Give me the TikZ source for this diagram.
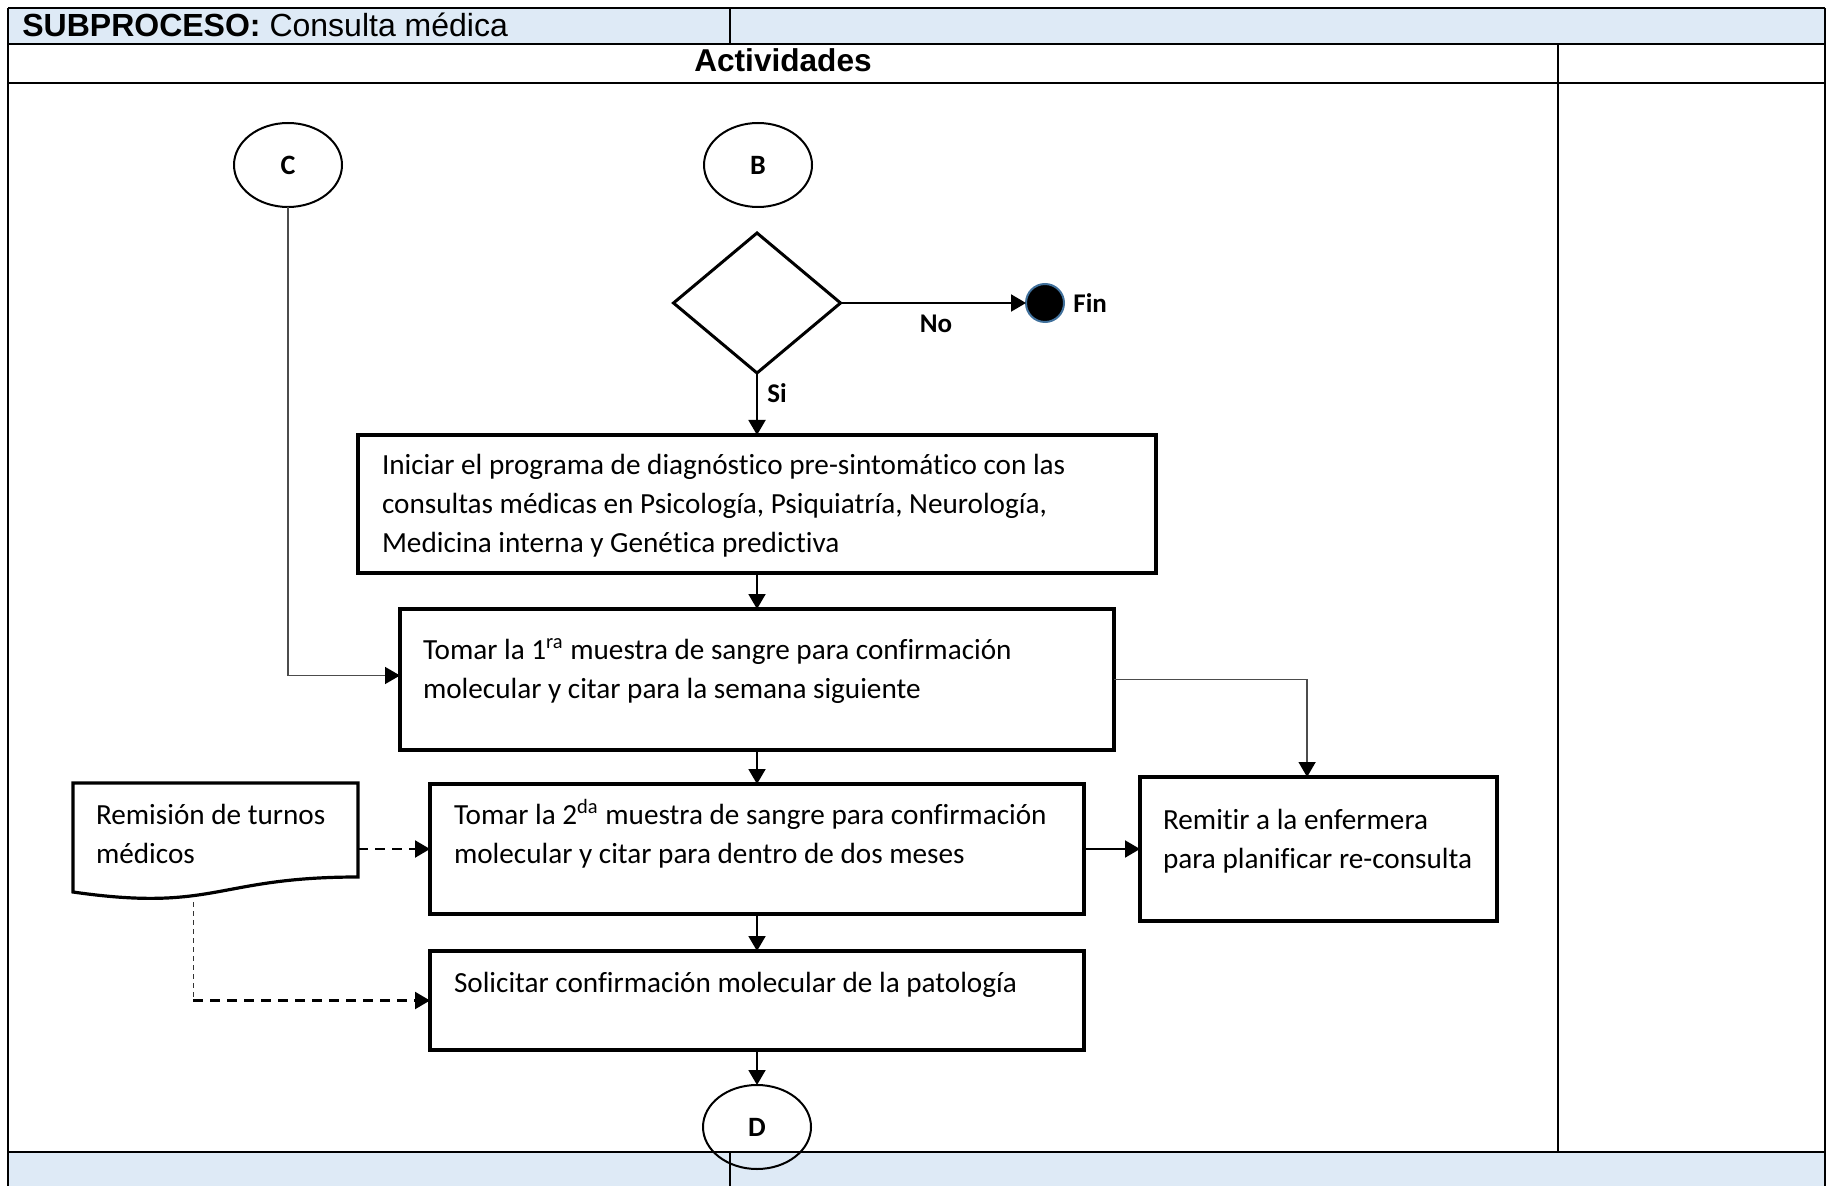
\documentclass[tikz,border=0pt]{standalone}
\usepackage{fontspec}
\setmainfont{Carlito}[Ligatures=NoCommon]
\newfontfamily\hdrfont{Liberation Sans}
\usetikzlibrary{shapes.geometric,arrows.meta,calc}
\definecolor{hdrblue}{HTML}{DEEAF6}
\definecolor{finblue}{HTML}{41719C}
\newcommand{\mylines}[1]{\begin{tabular}[t]{@{}l@{}}#1\end{tabular}}
\begin{document}
\begin{tikzpicture}[x=0.5pt,y=-0.5pt,
  box/.style={draw,line width=1.6pt,inner sep=0pt,outer sep=0pt},
  txt/.style={font=\fontsize{14.6}{19.5}\selectfont,inner sep=0pt,outer sep=0pt,anchor=base west},
  lbl/.style={font=\fontsize{13.5}{16}\selectfont\bfseries,inner sep=0pt},
  conn/.style={ellipse,draw,line width=1pt,minimum width=54pt,minimum height=42pt,inner sep=0pt,outer sep=0pt,font=\fontsize{14}{16}\selectfont\bfseries},
  tip/.style={-{Triangle[length=7.5pt,width=8.5pt,color=black]}},
  arr/.style={line width=1pt,tip},
  greyarr/.style={line width=0.75pt,draw=black!70,tip},
  dasharr/.style={line width=1.1pt,dash pattern=on 5pt off 3.5pt,tip},
  dashthin/.style={line width=0.5pt,draw=black!80,dash pattern=on 2.5pt off 2pt},
  tbl/.style={line width=1.1pt},
  tbldiv/.style={line width=0.8pt}
]
\useasboundingbox (0,0) rectangle (1834,1186);

% ---- table frame ----
\fill[hdrblue] (8,8) rectangle (1825,44);
\fill[hdrblue] (8,1152) rectangle (1825,1186);
\draw[tbl] (8,8) -- (1825,8);
\draw[tbl] (8,44) -- (1825,44);
\draw[tbl] (8,83) -- (1825,83);
\draw[tbl] (8,1152) -- (1825,1152);
\draw[tbl] (8,8) -- (8,1186);
\draw[tbl] (1825,8) -- (1825,1186);
\draw[tbldiv] (730,8) -- (730,44);
\draw[tbldiv] (1558,44) -- (1558,1152);
\draw[tbldiv] (730,1152) -- (730,1186);
\node[inner sep=0pt,anchor=base west,font=\hdrfont\fontsize{16}{18}\selectfont] (title) at (22,37) {\textbf{SUBPROCESO:} Consulta médica};
\node[inner sep=0pt,anchor=base,font=\hdrfont\fontsize{15.8}{18}\selectfont\bfseries] (act) at (783,72) {Actividades};

% ---- connectors / terminators ----
\node[conn] (cC) at (288,165) {C};
\node[conn] (cB) at (758,165) {B};
\node[conn] (cD) at (757,1127) {D};

\node[diamond,draw,line width=1.5pt,minimum width=83.5pt,minimum height=70pt,inner sep=0pt,outer sep=0pt] (dia) at (757,303) {};
\node[circle,fill=black,draw=finblue,line width=1pt,minimum size=19pt,inner sep=0pt,outer sep=0pt] (fin) at (1045,303) {};
\node[lbl,anchor=west] (finlbl) at (1073,303) {Fin};
\node[lbl] (nolbl) at (936,324) {No};
\node[lbl] (silbl) at (777,393) {Si};

% ---- process boxes ----
\node[box,minimum width=399pt,minimum height=69pt] (box1) at (757,504) {};
\node[box,minimum width=357pt,minimum height=70.5pt] (box2) at (757,679.5) {};
\node[box,minimum width=178.5pt,minimum height=72pt] (box3) at (1318.5,849) {};
\node[box,minimum width=327pt,minimum height=65pt] (box4) at (757,849) {};
\node[box,minimum width=327pt,minimum height=49.5pt] (box5) at (757,1000.5) {};
\node[inner sep=0pt,outer sep=0pt,minimum width=142.5pt,minimum height=47pt] (doc) at (215.5,830) {};
\draw[line width=1.6pt,line join=miter] (doc.south east) -- (doc.north east) -- (doc.north west) -- ($(doc.south west)+(0,15)$)
  .. controls ($(doc.south)+(0,35.5)$) and (doc.south) .. (doc.south east) -- cycle;

\node[txt] (t1) at (382,475) {\mylines{Iniciar el programa de diagnóstico pre-sintomático con las\\consultas médicas en Psicología, Psiquiatría, Neurología,\\Medicina interna y Genética predictiva}};
\node[txt] (t2) at (423,659) {\mylines{Tomar la 1\textsuperscript{ra} muestra de sangre para confirmación\\molecular y citar para la semana siguiente}};
\node[txt] (t3) at (1163,829) {\mylines{Remitir a la enfermera\\para planificar re-consulta}};
\node[txt] (t4) at (454,824) {\mylines{Tomar la 2\textsuperscript{da} muestra de sangre para confirmación\\molecular y citar para dentro de dos meses}};
\node[txt] (t5) at (454,992) {Solicitar confirmación molecular de la patología};
\node[txt] (td) at (96,824) {\mylines{Remisión de turnos\\médicos}};

% ---- arrows ----
\draw[arr] (dia.south) -- (box1.north);
\draw[arr] (dia.east) -- (fin.west);
\draw[arr] (box1.south) -- (box2.north);
\draw[greyarr] (cC.south) |- ($(box2.west)+(0,-4)$);
\draw[greyarr] (box2.east) -| ($(box3.north west)!0.468!(box3.north east)$);
\draw[arr] (box2.south) -- (box4.north);
\draw[arr] (box4.east) -- (box3.west);
\draw[dasharr] (doc.east |- box4.west) -- (box4.west);
\draw[arr] (box4.south) -- (box5.north);
\coordinate (docb) at (193,902);
\draw[dashthin] (docb) -- (docb |- box5.west);
\draw[dasharr] (docb |- box5.west) -- (box5.west);
\draw[arr] (box5.south) -- (cD.north);
\end{tikzpicture}
\end{document}
